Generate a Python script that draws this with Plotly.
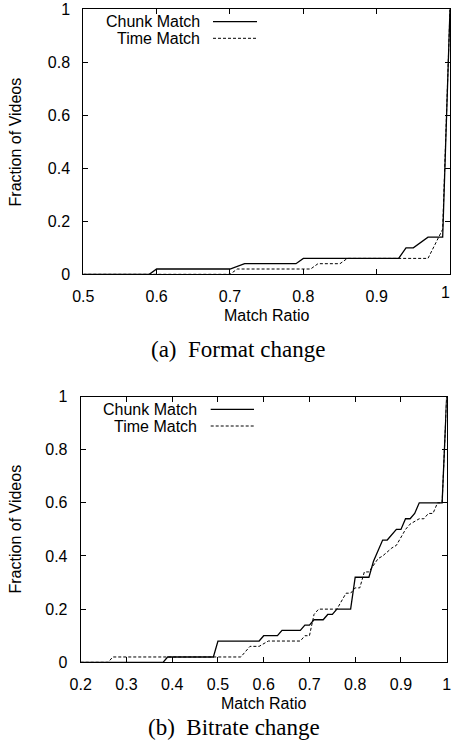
import plotly.graph_objects as go

# ---- data: (a) Format change ----
fmt_chunk_x = [0.5, 0.59, 0.60, 0.70, 0.72, 0.79, 0.80, 0.93, 0.94, 0.95, 0.97, 0.99, 1.0]
fmt_chunk_y = [0, 0, 0.02, 0.02, 0.04, 0.04, 0.06, 0.06, 0.10, 0.10, 0.14, 0.14, 1.0]
fmt_time_x = [0.5, 0.70, 0.71, 0.81, 0.82, 0.85, 0.86, 0.97, 0.99, 1.0]
fmt_time_y = [0, 0, 0.02, 0.02, 0.04, 0.04, 0.06, 0.06, 0.17, 1.0]

# ---- data: (b) Bitrate change ----
br_chunk_x = [0.2, 0.38, 0.39, 0.49, 0.50, 0.59, 0.60, 0.63, 0.64, 0.68, 0.69, 0.70, 0.71,
              0.73, 0.74, 0.75, 0.76, 0.79, 0.80, 0.83, 0.84, 0.86, 0.87, 0.89, 0.90, 0.91,
              0.92, 0.93, 0.94, 0.99, 1.0]
br_chunk_y = [0, 0, 0.02, 0.02, 0.08, 0.08, 0.10, 0.10, 0.12, 0.12, 0.14, 0.14, 0.16,
              0.16, 0.18, 0.18, 0.20, 0.20, 0.32, 0.32, 0.38, 0.46, 0.46, 0.50, 0.50, 0.54,
              0.54, 0.56, 0.60, 0.60, 1.0]
br_time_x = [0.2, 0.26, 0.27, 0.55, 0.57, 0.59, 0.61, 0.68, 0.69, 0.70, 0.71, 0.72, 0.76,
             0.78, 0.79, 0.80, 0.81, 0.82, 0.83, 0.85, 0.86, 0.88, 0.89, 0.91, 0.92, 0.94,
             0.95, 0.96, 0.97, 0.98, 0.99, 1.0]
br_time_y = [0, 0, 0.02, 0.02, 0.06, 0.06, 0.08, 0.08, 0.10, 0.10, 0.18, 0.20, 0.20,
             0.26, 0.26, 0.28, 0.28, 0.34, 0.34, 0.39, 0.40, 0.43, 0.44, 0.50, 0.52, 0.54,
             0.54, 0.56, 0.56, 0.60, 0.60, 1.0]

series_names = ["Chunk Match", "Time Match"]
y_ticks = [0, 0.2, 0.4, 0.6, 0.8, 1]
fmt_x_ticks = [0.5, 0.6, 0.7, 0.8, 0.9, 1]
br_x_ticks = [0.2, 0.3, 0.4, 0.5, 0.6, 0.7, 0.8, 0.9, 1]
captions = ["(a)\u00a0\u00a0Format change", "(b)\u00a0\u00a0Bitrate change"]

W, H = 452, 749
def px(x):
    return x / W
def py(y):
    return 1 - y / H

SANS = "Liberation Sans, Arial, sans-serif"
SERIF = "Liberation Serif, Times New Roman, serif"
solid = dict(color="black", width=1.3)
dashed = dict(color="black", width=1, dash="3px,2px")

fig = go.Figure()
fig.add_trace(go.Scatter(x=fmt_chunk_x, y=fmt_chunk_y, mode="lines", line=solid,
                         name=series_names[0], xaxis="x", yaxis="y", showlegend=False))
fig.add_trace(go.Scatter(x=fmt_time_x, y=fmt_time_y, mode="lines", line=dashed,
                         name=series_names[1], xaxis="x", yaxis="y", showlegend=False))
fig.add_trace(go.Scatter(x=br_chunk_x, y=br_chunk_y, mode="lines", line=solid,
                         name=series_names[0], xaxis="x2", yaxis="y2", showlegend=False))
fig.add_trace(go.Scatter(x=br_time_x, y=br_time_y, mode="lines", line=dashed,
                         name=series_names[1], xaxis="x2", yaxis="y2", showlegend=False))

axis_common = dict(showline=True, linecolor="black", linewidth=1, mirror="ticks",
                   ticks="inside", ticklen=5, tickcolor="black", showgrid=False,
                   zeroline=False, tickfont=dict(family=SANS, size=16, color="black"))

fig.update_layout(
    width=W, height=H,
    margin=dict(l=0, r=0, t=0, b=0, autoexpand=False),
    paper_bgcolor="white", plot_bgcolor="white",
    showlegend=False,
    xaxis=dict(domain=[px(83.3), px(450)], range=[0.5, 1], tickvals=fmt_x_ticks,
               anchor="y", ticklabelstandoff=7, **axis_common),
    yaxis=dict(domain=[py(274.3), py(9.3)], range=[0, 1], tickvals=y_ticks,
               anchor="x", ticklabelstandoff=9, **axis_common),
    xaxis2=dict(domain=[px(80.7), px(446.7)], range=[0.2, 1], tickvals=br_x_ticks,
                anchor="y2", ticklabelstandoff=7, **axis_common),
    yaxis2=dict(domain=[py(662.3), py(396.5)], range=[0, 1], tickvals=y_ticks,
                anchor="x2", ticklabelstandoff=9, **axis_common),
)

annotations = []
shapes = []
def text(x, y, s, font, size, angle=0, xanchor="center"):
    annotations.append(dict(x=px(x), y=py(y), xref="paper", yref="paper", text=s,
                            showarrow=False, textangle=angle, xanchor=xanchor,
                            yanchor="middle", font=dict(family=font, size=size, color="black")))

# plot (a)
text(15.7, 141.7, "Fraction of Videos", SANS, 16, angle=-90)
text(266.7, 316, "Match Ratio", SANS, 16)
text(238, 349.3, captions[0], SERIF, 23)
# last x tick label of (a) sits at the page edge; keep it inside the page
text(452, 292.5, "1", SANS, 16, xanchor="right")
# plot (b)
text(15, 529.5, "Fraction of Videos", SANS, 16, angle=-90)
text(263.6, 703, "Match Ratio", SANS, 16)
text(234.5, 727, captions[1], SERIF, 23)

# legends (gnuplot style: text then sample)
for (tx, y1, y2, sx0, sx1) in [(202, 21.7, 38.3, 213, 257), (199.3, 409.3, 426, 210.7, 254)]:
    text(tx, y1, series_names[0], SANS, 16, xanchor="right")
    text(tx, y2, series_names[1], SANS, 16, xanchor="right")
    shapes.append(dict(type="line", xref="paper", yref="paper", x0=px(sx0), x1=px(sx1),
                       y0=py(y1), y1=py(y1), line=solid))
    shapes.append(dict(type="line", xref="paper", yref="paper", x0=px(sx0), x1=px(sx1),
                       y0=py(y2), y1=py(y2), line=dashed))

fig.update_layout(annotations=annotations, shapes=shapes)
fig.write_html("out.html")
